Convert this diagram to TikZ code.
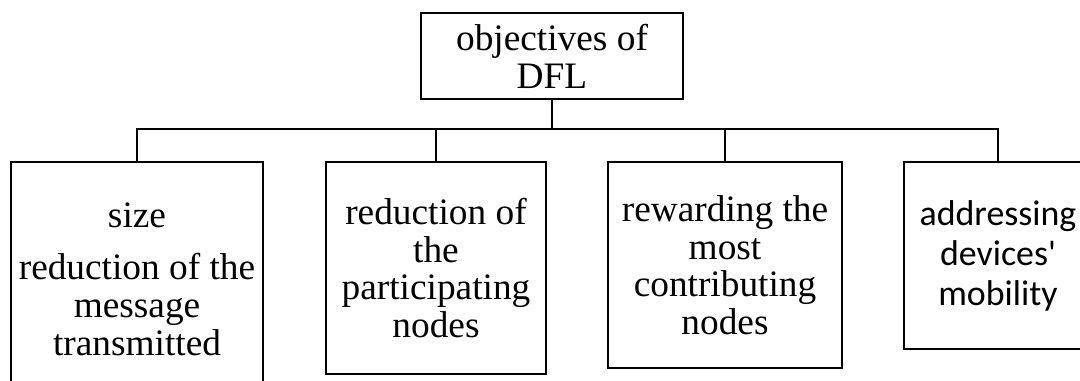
\documentclass[tikz,border=0pt]{standalone}
\usepackage{fontspec}
\setmainfont{Liberation Serif}
\newfontfamily\sansbody{Carlito}
\usepackage{tikz}

\begin{document}
\begin{tikzpicture}[x=0.75pt,y=-0.75pt]
%\draw[gray,very thin] (0,0) grid (1080,381);
\tikzstyle{block} = [draw, shape=rectangle, line width=1.8pt, inner sep=0pt, align=center, anchor=north, font=\fontsize{28}{28.2}\selectfont]
\tikzstyle{sansblock} = [block, font=\sansbody\fontsize{26.9}{30}\selectfont]
\useasboundingbox (0,0) rectangle (1080,381);
\clip (0,0) rectangle (1080,381);
%Creating Blocks and Connection Nodes
\node at (552,12) [block, minimum width=196.5pt, minimum height=64.5pt] (root) {objectives of\\DFL};
\node at (137,161) [block, minimum width=189pt, minimum height=175.5pt] (h1) {size\\[11pt]reduction of the\\message\\transmitted};
\node at (436,161) [block, minimum width=165pt, minimum height=159pt] (h2) {reduction of\\the\\participating\\nodes};
\node at (725,161) [block, minimum width=175.5pt, minimum height=154.5pt] (h3) {rewarding the\\most\\contributing\\nodes};
\node at (998,161) [sansblock, minimum width=141pt, minimum height=140.25pt] (h4) {addressing\\devices'\\mobility};
\coordinate (bus) at (552,129);
\begin{scope}[line width = 1.8pt]
\draw (root) -- (bus);
\draw (bus) -| (h1);
\draw (bus) -| (h2);
\draw (bus) -| (h3);
\draw (bus) -| (h4);
\end{scope}

\end{tikzpicture}
\end{document}
